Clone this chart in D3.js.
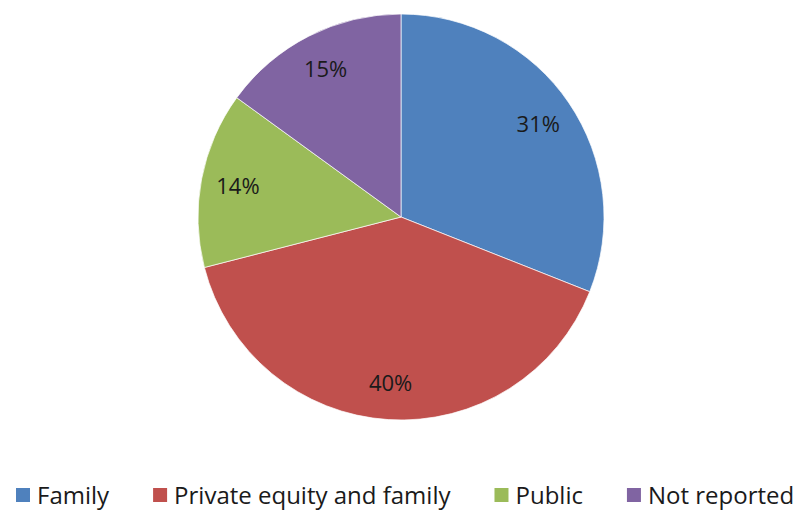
<!DOCTYPE html>
<html>
<head>
    <meta charset="utf-8" />
    <script src="https://d3js.org/d3.v7.min.js"></script>
    <style>
        body { margin: 0; background: #fff; }
        text { font-family: "Open Sans", sans-serif; fill: #1a1a1a; }
    </style>
</head>
<body>
    <div id="chart"></div>
    <script>
        // data
        const categories = ["Family", "Private equity and family", "Public", "Not reported"];
        const shares = [31, 40, 14, 15];
        const colors = ["#4F81BD", "#C0504D", "#9BBB59", "#8064A2"];

        const svgWidth = 804;
        const svgHeight = 510;
        const cx = 401, cy = 217;
        const radius = 203;

        const data = categories.map((c, i) => ({ name: c, value: shares[i] }));

        const svg = d3.select("#chart")
            .append("svg")
            .attr("width", svgWidth)
            .attr("height", svgHeight);

        const chart = svg.append("g")
            .attr("transform", `translate(${cx}, ${cy})`);

        const color = d3.scaleOrdinal().domain(categories).range(colors);

        const pie = d3.pie()
            .value(d => d.value)
            .sort(null);

        const arc = d3.arc().innerRadius(0).outerRadius(radius);
        const labelArc = d3.arc().innerRadius(166).outerRadius(166);

        const arcs = pie(data);

        // slices
        chart.selectAll(".slice")
            .data(arcs)
            .enter().append("path")
            .attr("class", "slice")
            .attr("d", arc)
            .attr("fill", d => color(d.data.name))
            .attr("stroke", "#fff")
            .attr("stroke-width", 0.7);

        // percent labels
        chart.selectAll(".pct")
            .data(arcs)
            .enter().append("text")
            .attr("class", "pct")
            .attr("transform", d => `translate(${labelArc.centroid(d)})`)
            .attr("text-anchor", "middle")
            .attr("dy", "0.36em")
            .style("font-size", "22px")
            .text(d => d.data.value + "%");

        // legend
        const legend = svg.append("g")
            .attr("transform", "translate(16, 495)");

        let x = 0;
        categories.forEach(function (c) {
            const item = legend.append("g").attr("transform", `translate(${x}, 0)`);
            item.append("rect")
                .attr("x", 0)
                .attr("y", -7)
                .attr("width", 14)
                .attr("height", 14)
                .attr("fill", color(c));
            const t = item.append("text")
                .attr("x", 21)
                .attr("dy", "0.36em")
                .style("font-size", "24px")
                .text(c);
            x += 21 + t.node().getComputedTextLength() + 44;
        });
    </script>
</body>
</html>
